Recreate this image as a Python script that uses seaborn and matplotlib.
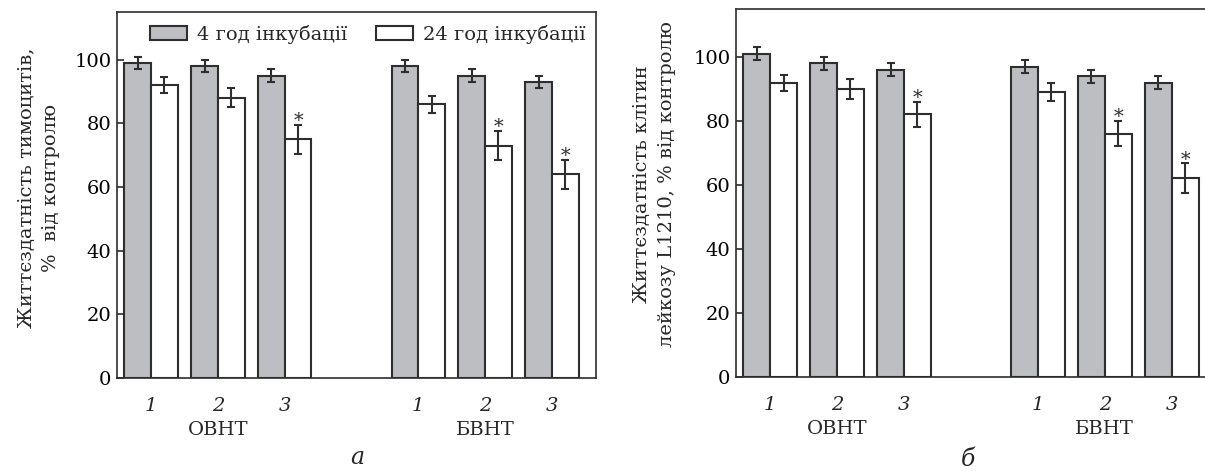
import pandas as pd
import seaborn as sns
import matplotlib.pyplot as plt
from matplotlib.transforms import blended_transform_factory


# Дані

groups = ['ОВНТ', 'БВНТ']
doses = ['1', '2', '3']
series = ['4 год інкубації', '24 год інкубації']

# а — тимоцити
thym_4h = [99, 98, 95, 98, 95, 93]
thym_4h_err = [2, 2, 2, 2, 2, 2]
thym_24h = [92, 88, 75, 86, 73, 64]
thym_24h_err = [2.5, 3, 4.5, 2.7, 4.5, 4.5]
thym_star = [False, False, True, False, True, True]

# б — клітини лейкозу L1210
leuk_4h = [101, 98, 96, 97, 94, 92]
leuk_4h_err = [2, 2, 2, 2, 2, 2]
leuk_24h = [92, 90, 82, 89, 76, 62]
leuk_24h_err = [2.5, 3, 4, 2.7, 4, 4.7]
leuk_star = [False, False, True, False, True, True]

ylabel_a = 'Життєздатність тимоцитів,\n%  від контролю'
ylabel_b = 'Життєздатність клітин\nлейкозу L1210, % від контролю'


# Оформлення

sns.set_style('ticks')
plt.rcParams['font.family'] = ['DejaVu Serif']
plt.rcParams['font.size'] = 14

gray = '#bdbec2'
edge = '#2e2e2e'

slots = [f'{g} {d}' for g in groups for d in doses]
order = slots[:3] + ['gap'] + slots[3:]


def draw_panel(ax, v4, e4, v24, e24, stars, ylabel, legend):
    df = pd.DataFrame({
        'slot': slots * 2,
        'series': [series[0]] * 6 + [series[1]] * 6,
        'value': v4 + v24,
    })
    sns.barplot(
        data=df, x='slot', y='value', hue='series',
        order=order, hue_order=series,
        palette=[gray, 'white'], saturation=1,
        edgecolor=edge, linewidth=1.5,
        errorbar=None, legend=legend, ax=ax
    )

    # похибки та зірочки
    for cont, vals, errs, marks in zip(ax.containers, [v4, v24], [e4, e24],
                                       [[False] * 6, stars]):
        bars = sorted(cont.patches, key=lambda p: p.get_x())
        xs = [p.get_x() + p.get_width() / 2 for p in bars]
        ax.errorbar(xs, vals, yerr=errs, fmt='none', ecolor=edge,
                    elinewidth=1.5, capsize=3, capthick=1.5)
        for x, v, e, m in zip(xs, vals, errs, marks):
            if m:
                ax.text(x, v + e + 1.2, '*', ha='center', va='center',
                        fontsize=14, color=edge)

    ax.set_ylim(0, 115)
    ax.set_xlim(-0.51, 6.66)
    ax.set_yticks([0, 20, 40, 60, 80, 100])
    ax.tick_params(axis='y', direction='in', length=5, width=1.2,
                   pad=4, colors=edge, labelcolor='black')
    ax.tick_params(axis='x', length=0, pad=14)
    ax.set_xticks(range(7))
    ax.set_xticklabels(doses + [''] + doses, fontstyle='italic')
    ax.set_xlabel('')
    ax.set_ylabel(ylabel, va='center', linespacing=1.45)

    for s in ax.spines.values():
        s.set_color(edge)
        s.set_linewidth(1.2)

    tr = blended_transform_factory(ax.transData, ax.transAxes)
    ax.text(1, -0.143, groups[0], transform=tr, ha='center', va='center')
    ax.text(5, -0.143, groups[1], transform=tr, ha='center', va='center')


fig = plt.figure(figsize=(12.05, 4.76), dpi=100)
ax1 = fig.add_axes([0.0971, 0.2059, 0.3975, 0.769])
ax2 = fig.add_axes([0.6108, 0.209, 0.3983, 0.772])

draw_panel(ax1, thym_4h, thym_4h_err, thym_24h, thym_24h_err, thym_star,
           ylabel_a, True)
draw_panel(ax2, leuk_4h, leuk_4h_err, leuk_24h, leuk_24h_err, leuk_star,
           ylabel_b, False)

ax1.yaxis.set_label_coords(-0.163, 0.52)
ax2.yaxis.set_label_coords(-0.17, 0.524)

handles, labels = ax1.get_legend_handles_labels()
ax1.legend(handles, labels, loc='upper left', bbox_to_anchor=(0.069, 0.965),
           ncol=2, frameon=False, borderpad=0, borderaxespad=0,
           handlelength=1.9, handleheight=0.7, handletextpad=0.5,
           columnspacing=1.5, fontsize=14)

fig.text(357 / 1205, 1 - 457 / 476, 'а', ha='center', va='center',
         fontsize=17, fontstyle='italic')
fig.text(968 / 1205, 1 - 459 / 476, 'б', ha='center', va='center',
         fontsize=17, fontstyle='italic')

plt.savefig('out.png', dpi=100)
